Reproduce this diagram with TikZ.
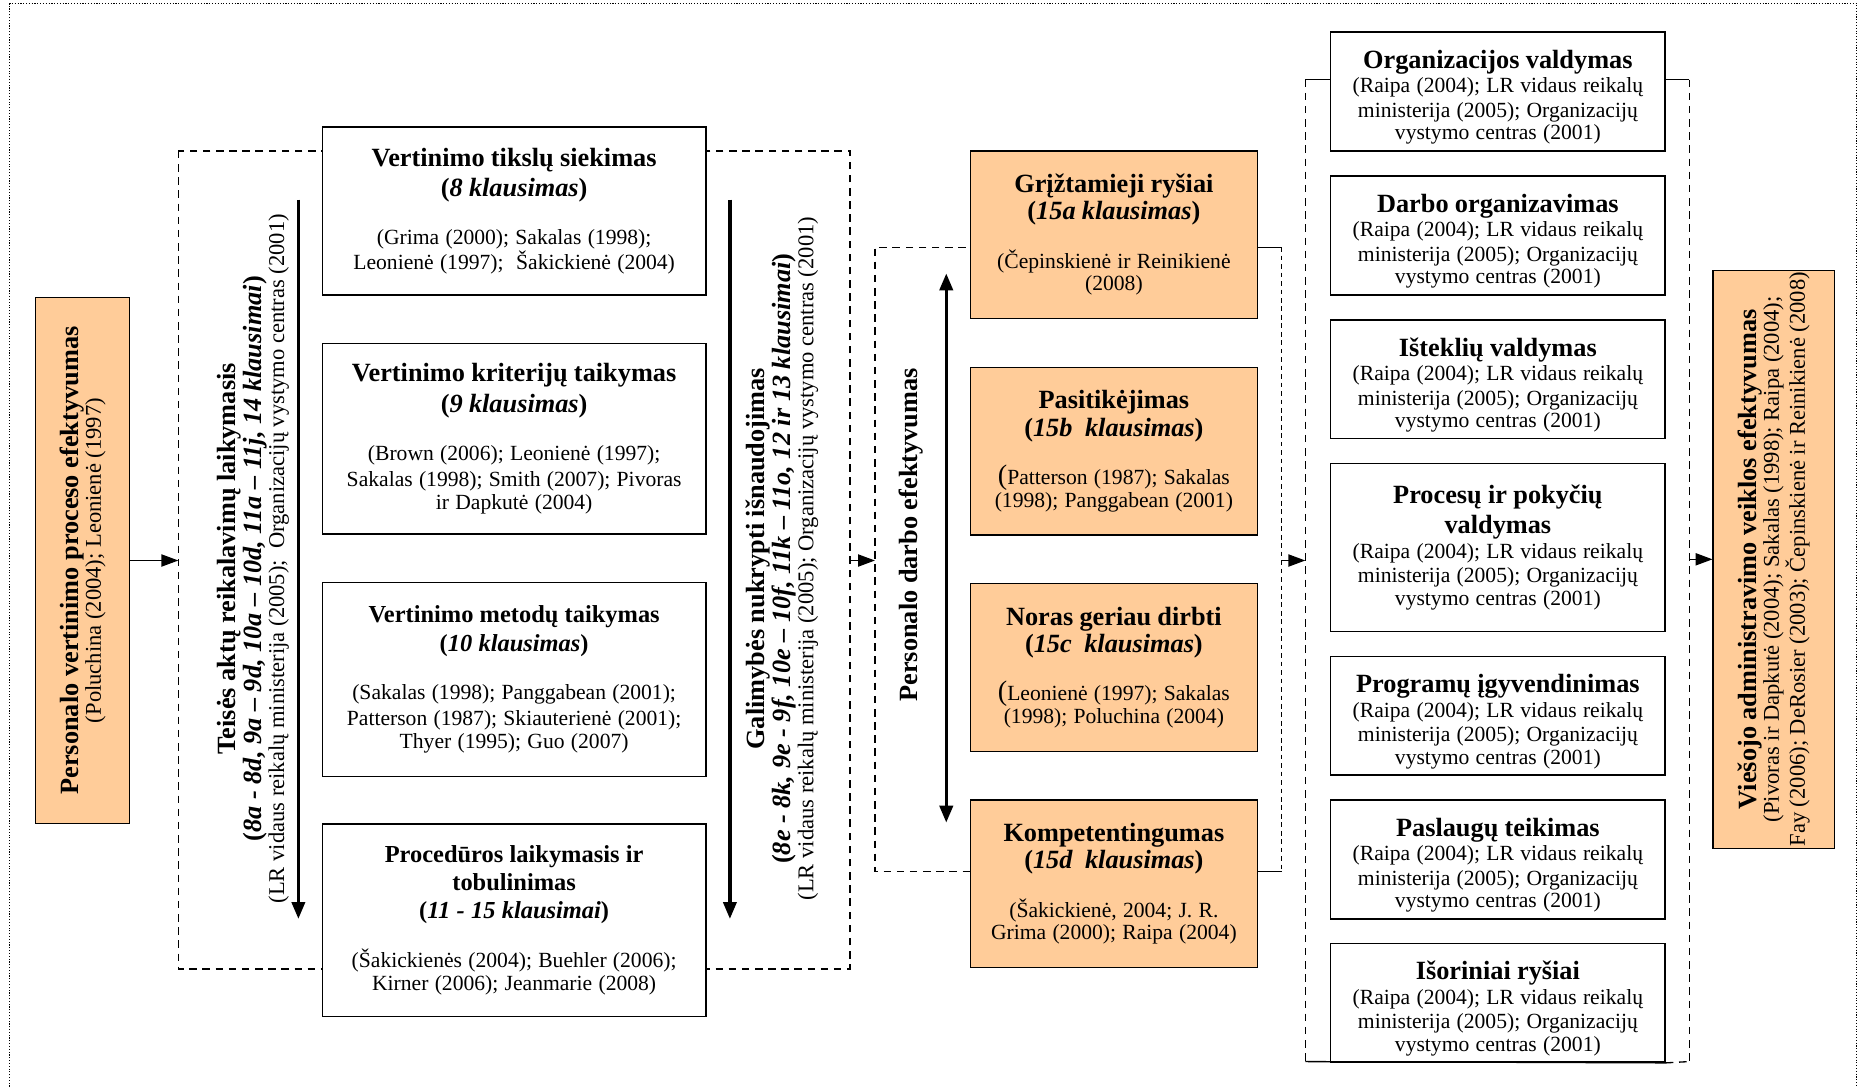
\documentclass[tikz,border=0pt]{standalone}
\usepackage{fontspec}
\setmainfont{Liberation Serif}
\usetikzlibrary{arrows.meta,positioning}
\definecolor{peach}{HTML}{FFCC99}
\newcommand\boxtitle{\fontsize{14}{16}\selectfont\bfseries}
\newcommand\orangetitle{\fontsize{14}{14.5}\selectfont\bfseries}
\newcommand\boxsubtitle{\fontsize{13}{15}\selectfont\bfseries}
\newcommand\boxrefs{\fontsize{11.5}{13.8}\selectfont\mdseries}
\newcommand\tightrefs{\fontsize{11.5}{13}\selectfont\mdseries}
\newcommand\sidetitle{\fontsize{14}{14.8}\selectfont\bfseries}
\newcommand\siderefs{\fontsize{12}{14.8}\selectfont\mdseries}
\newcommand\toppad{\rule{0pt}{16pt}}

\begin{document}
\begin{tikzpicture}[x=0.6325pt, y=-0.6325pt,
  >={Triangle[length=9pt,width=6.5pt]},
  whitebox/.style={draw, line width=0.8pt, fill=white, align=center, inner sep=1pt},
  orangebox/.style={draw, line width=0.6pt, fill=peach, align=center, inner sep=1pt},
  colone/.style={whitebox, text width=202pt},
  coltwo/.style={orangebox, text width=151pt, minimum height=89.2pt},
  colthree/.style={whitebox, text width=176pt, inner ysep=0pt, minimum height=63.2pt},
  grpframe/.style={line width=0.7pt, dash pattern=on 4pt off 3pt},
  finedash/.style={line width=0.6pt, dash pattern=on 2.5pt off 2pt},
  flow/.style={->, line width=0.7pt},
  bigarrow/.style={line width=1.8pt, -{Triangle[length=9pt,width=7pt]}},
  sidelabel/.style={rotate=90, align=center}]

\useasboundingbox (0,0) rectangle (1568,914);

% outer frame
\draw[line width=0.5pt, dash pattern=on 0.6pt off 0.9pt] (8,914) -- (8,3) -- (1562,3) -- (1562,914);

% group frames
\coordinate (g1nw) at (150,127);
\coordinate (g1se) at (715,815);
\coordinate (g2nw) at (736,208);
\coordinate (g2se) at (1078,733);
\coordinate (g3nw) at (1098,67);
\coordinate (g3se) at (1421,893);
\draw[grpframe] (g1nw) rectangle (g1se);
\draw[grpframe] (g2se |- g2nw) -- (g2nw) -- (g2nw |- g2se) -- (g2se);
\draw[finedash] (g2se |- g2nw) -- (g2se);
\draw[grpframe] (g3nw) -- (g3nw |- g3se);
\draw[grpframe] (g3se |- g3nw) -- (g3se);

% left and right boxes
\node[orangebox, rotate=90, minimum width=280.2pt, minimum height=50pt] (PVP) at (69.5,471.5)
  {\sidetitle Personalo vertinimo proceso efektyvumas\\\siderefs (Poluchina (2004); Leonienė (1997)};
\node[orangebox, rotate=90, minimum width=306.8pt, minimum height=64.5pt] (VAVE) at (1492,470.5)
  {\sidetitle Viešojo administravimo veiklos efektyvumas\\\siderefs (Pivoras ir Dapkutė (2004); Sakalas (1998); Raipa (2004);\\\siderefs Fay (2006); DeRosier (2003); Čepinskienė ir Reinikienė (2008)};

% first column
\node[colone, minimum height=89.2pt] (B1) at (432.5,177.5)
  {\boxtitle Vertinimo tikslų siekimas\\(\textit{8 klausimas})\\[12pt]\boxrefs (Grima (2000); Sakalas (1998);\\Leonienė (1997);~ Šakickienė (2004)};
\node[colone, minimum height=101.2pt] (B2) at (432.5,369)
  {\boxtitle Vertinimo kriterijų taikymas\\(\textit{9 klausimas})\\[12pt]\boxrefs (Brown (2006); Leonienė (1997);\\Sakalas (1998); Smith (2007); Pivoras\\ir Dapkutė (2004)};
\node[colone, minimum height=103.1pt] (B3) at (432.5,571.5)
  {\boxsubtitle Vertinimo metodų taikymas\\(\textit{10 klausimas})\\[12pt]\boxrefs (Sakalas (1998); Panggabean (2001);\\Patterson (1987); Skiauterienė (2001);\\Thyer (1995); Guo (2007)};
\node[colone, minimum height=102.5pt] (B4) at (432.5,774)
  {\boxsubtitle Procedūros laikymasis ir\\tobulinimas\\(\textit{11 - 15 klausimai})\\[12pt]\boxrefs (Šakickienės (2004); Buehler (2006);\\Kirner (2006); Jeanmarie (2008)};

\node[sidelabel] (lblTeise) at (213,470)
  {\sidetitle Teisės aktų reikalavimų laikymasis\\\sidetitle (\textit{8a - 8d, 9a – 9d, 10a – 10d, 11a – 11j, 14 klausimai})\\\siderefs (LR vidaus reikalų ministerija (2005);~ Organizacijų vystymo centras (2001)};
\node[sidelabel] (lblGalim) at (658,470)
  {\sidetitle Galimybės nukrypti išnaudojimas\\\sidetitle (\textit{8e - 8k, 9e - 9f, 10e – 10f, 11k – 11o, 12 ir 13 klausimai})\\\siderefs (LR vidaus reikalų ministerija (2005); Organizacijų vystymo centras (2001)};

\coordinate (t1a) at (251,168);
\coordinate (t1b) at (251,773);
\coordinate (t2a) at (614,168);
\coordinate (t2b) at (614,773);
\draw[bigarrow] (t1a) -- (t1b);
\draw[bigarrow] (t2a) -- (t2b);

% second column
\node[coltwo] (O1) at (937,197.5)
  {\orangetitle Grįžtamieji ryšiai\\(\textit{15a klausimas})\\[12pt]\boxrefs (Čepinskienė ir Reinikienė\\(2008)};
\node[coltwo] (O2) at (937,379.5)
  {\orangetitle Pasitikėjimas\\(\textit{15b~ klausimas})\\[12pt]\boxrefs {\fontsize{15}{13}\selectfont(}Patterson (1987); Sakalas\\(1998); Panggabean (2001)};
\node[coltwo] (O3) at (937,561.5)
  {\orangetitle Noras geriau dirbti\\(\textit{15c~ klausimas})\\[12pt]\boxrefs {\fontsize{15}{13}\selectfont(}Leonienė (1997); Sakalas\\(1998); Poluchina (2004)};
\node[coltwo] (O4) at (937,743.5)
  {\orangetitle Kompetentingumas\\(\textit{15d~ klausimas})\\[12pt]\boxrefs (Šakickienė, 2004; J. R.\\Grima (2000); Raipa (2004)};

\node[sidelabel] (lblDarbo) at (766,450) {\sidetitle Personalo darbo efektyvumas};
\coordinate (d1) at (796,230);
\coordinate (d2) at (796,692);
\draw[bigarrow, {Triangle[length=9pt,width=7pt]}-{Triangle[length=9pt,width=7pt]}] (d1) -- (d2);

% third column
\node[colthree] (R1) at (1260,77)
  {\boxtitle\toppad Organizacijos valdymas\\\tightrefs (Raipa (2004); LR vidaus reikalų\\ministerija (2005); Organizacijų\\vystymo centras (2001)};
\node[colthree] (R2) at (1260,198)
  {\boxtitle\toppad Darbo organizavimas\\\tightrefs (Raipa (2004); LR vidaus reikalų\\ministerija (2005); Organizacijų\\vystymo centras (2001)};
\node[colthree] (R3) at (1260,319)
  {\boxtitle\toppad Išteklių valdymas\\\tightrefs (Raipa (2004); LR vidaus reikalų\\ministerija (2005); Organizacijų\\vystymo centras (2001)};
\node[colthree, minimum height=89.2pt] (R4) at (1260,460.5)
  {\boxtitle Procesų ir pokyčių\\valdymas\\\tightrefs (Raipa (2004); LR vidaus reikalų\\ministerija (2005); Organizacijų\\vystymo centras (2001)};
\node[colthree] (R5) at (1260,602)
  {\boxtitle\toppad Programų įgyvendinimas\\\tightrefs (Raipa (2004); LR vidaus reikalų\\ministerija (2005); Organizacijų\\vystymo centras (2001)};
\node[colthree] (R6) at (1260,723)
  {\boxtitle\toppad Paslaugų teikimas\\\tightrefs (Raipa (2004); LR vidaus reikalų\\ministerija (2005); Organizacijų\\vystymo centras (2001)};
\node[colthree] (R7) at (1260,843.5)
  {\boxtitle\toppad Išoriniai ryšiai\\\tightrefs (Raipa (2004); LR vidaus reikalų\\ministerija (2005); Organizacijų\\vystymo centras (2001)};

% solid stubs of the group frames
\draw[line width=0.7pt] (O1.east |- g2nw) -- (g2se |- g2nw);
\draw[line width=0.7pt] (O4.east |- g2se) -- (g2se);
\draw[line width=0.7pt] (g3nw) -- (R1.west |- g3nw);
\draw[line width=0.7pt] (R1.east |- g3nw) -- (g3se |- g3nw);
\draw[line width=0.7pt] (g3nw |- g3se) -- (R7.south east);
\draw[grpframe] (R7.south east) -- (g3se);

% flow between groups
\draw[flow] (PVP.south) -- (PVP.south -| g1nw);
\draw[flow] (g1se |- PVP.south) -- (g2nw |- PVP.south);
\draw[flow] (g2se |- PVP.south) -- (g3nw |- PVP.south);
\draw[flow] (g3se |- VAVE.north) -- (VAVE.north);
\end{tikzpicture}
\end{document}
